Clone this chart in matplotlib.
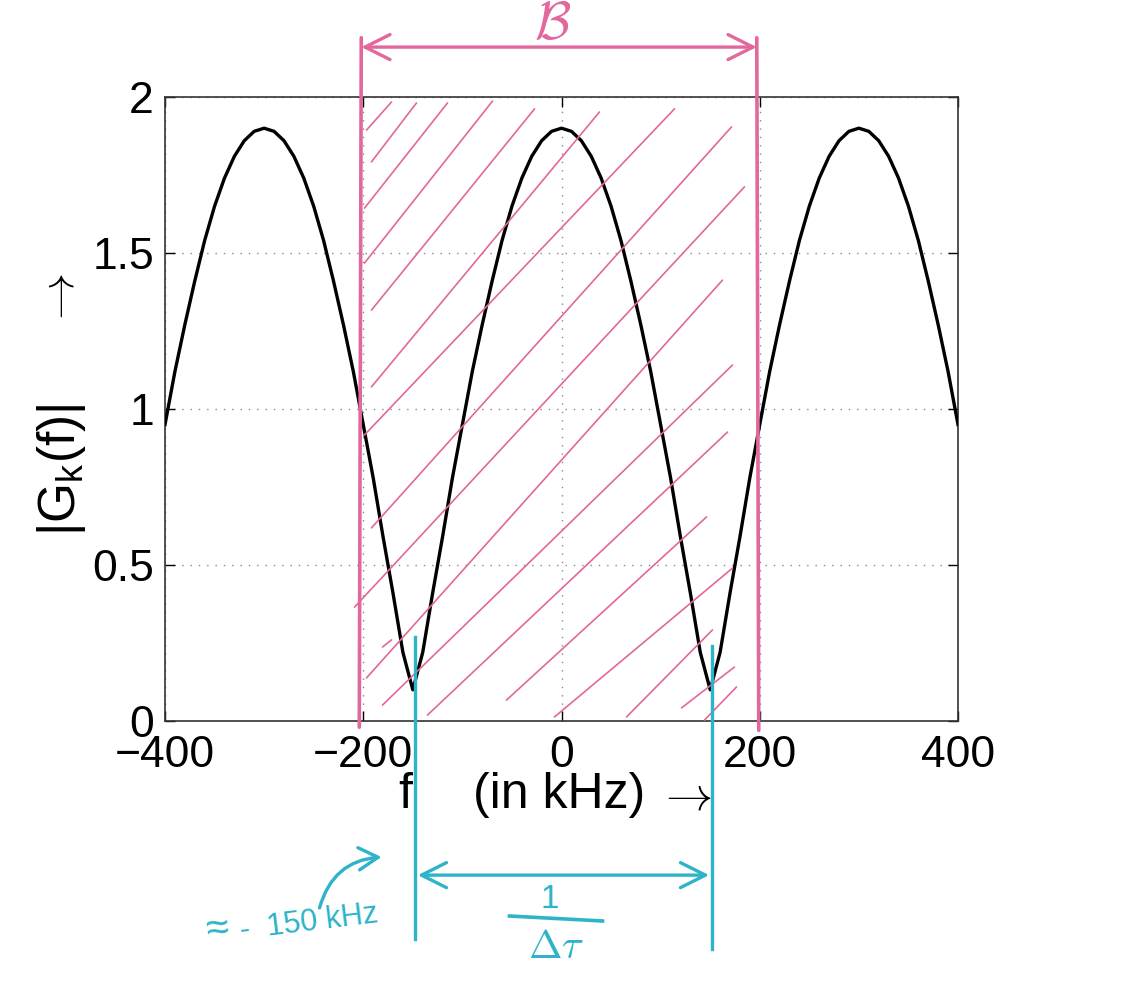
#Magnitude response |G_k(f)| of a two-path channel, with hand-drawn
#annotations (bandwidth B, notch spacing 1/dtau)

import numpy as np
import matplotlib
matplotlib.use("Agg")
import matplotlib.pyplot as plt

plt.rcParams['font.family'] = ['Liberation Sans', 'DejaVu Sans']
plt.rcParams['mathtext.fontset'] = 'custom'
plt.rcParams['mathtext.rm'] = 'Liberation Sans'
plt.rcParams['mathtext.it'] = 'Liberation Sans:italic'

#data (kHz, magnitude)
freq_khz = np.arange(-400, 401, 10)
gain = [0.95, 1.12, 1.27, 1.41, 1.54, 1.65, 1.74, 1.81, 1.86, 1.89,
        1.90, 1.89, 1.86, 1.81, 1.74, 1.65, 1.54, 1.41, 1.27, 1.12,
        0.95, 0.78, 0.59, 0.41, 0.22, 0.10, 0.22, 0.41, 0.59, 0.78,
        0.95, 1.12, 1.27, 1.41, 1.54, 1.65, 1.74, 1.81, 1.86, 1.89,
        1.90,
        1.89, 1.86, 1.81, 1.74, 1.65, 1.54, 1.41, 1.27, 1.12, 0.95,
        0.78, 0.59, 0.41, 0.22, 0.10, 0.22, 0.41, 0.59, 0.78, 0.95,
        1.12, 1.27, 1.41, 1.54, 1.65, 1.74, 1.81, 1.86, 1.89, 1.90,
        1.89, 1.86, 1.81, 1.74, 1.65, 1.54, 1.41, 1.27, 1.12, 0.95]

x_ticks = [-400, -200, 0, 200, 400]
y_ticks = [0, 0.5, 1, 1.5, 2]
y_ticklabels = ["0", "0.5", "1", "1.5", "2"]

#hand drawn annotations
band_left = [(-202, 2.19), (-204, -0.02)]
band_right = [(197, 2.19), (199, -0.03)]
band_arrow_y = 2.16
notch_left = [(-148, 0.27), (-148, -0.70)]
notch_right = [(152, 0.24), (152, -0.73)]
notch_arrow_y = -0.494

#pen strokes of the hatching: (x0, y0, x1, y1)
hatch_strokes = [
    (-196.7, 1.894, -171.5, 1.984),
    (-191.7, 1.792, -146.3, 1.981),
    (-198.7, 1.644, -115.0, 1.981),
    (-198.7, 1.468, -69.6, 1.987),
    (-191.7, 1.317, -27.2, 1.962),
    (-191.7, 1.071, 38.3, 1.952),
    (-198.7, 0.917, 114.0, 1.962),
    (-191.7, 0.619, 171.5, 1.904),
    (-208.8, 0.365, 184.6, 1.712),
    (-196.7, 0.138, 162.4, 1.413),
    (-180.6, 0.051, 172.5, 1.141),
    (-135.2, 0.019, 167.5, 0.926),
    (-55.5, 0.067, 146.3, 0.654),
    (-7.1, 0.013, 172.5, 0.490),
    (65.6, 0.013, 152.3, 0.292),
    (121.1, 0.042, 174.5, 0.173),
    (144.3, 0.003, 176.5, 0.109),
    (-180.6, 0.237, -171.5, 0.260),
]

pink = '#E2679C'
cyan = '#2EB3C9'

fig = plt.figure(figsize=(11.21, 10), dpi=100)
ax = fig.add_axes([165/1121, 1 - 721/1000, 793/1121, 624/1000])

ax.plot(freq_khz, gain, color='black', lw=2.4, zorder=3)

ax.set_xlim(-400, 400)
ax.set_ylim(0, 2)
ax.set_xticks(x_ticks)
ax.set_yticks(y_ticks)
ax.set_yticklabels(y_ticklabels)
ax.tick_params(direction='in', top=True, right=True, length=7, width=1,
               labelsize=32)
ax.tick_params(axis='x', pad=10)
ax.tick_params(axis='y', pad=8)
ax.grid(True, linestyle=(0, (1, 5)), color='#888888', lw=1)
for s in ax.spines.values():
    s.set_linewidth(1.2)
    s.set_color('#333333')

#axis labels, placed piece by piece like the original
fig.text(405/1121, 1 - 795/1000, 'f', fontsize=36, ha='center', va='center')
fig.text(559/1121, 1 - 795/1000, '(in kHz)', fontsize=36, ha='center',
         va='center')
fig.text(684/1121, 1 - 797/1000, r'$\rightarrow$', fontsize=34,
         math_fontfamily='cm', ha='center', va='center')
fig.text(61/1121, 1 - 470/1000, r'$|\mathrm{G}_\mathrm{k}(\mathrm{f})|$',
         fontsize=37, rotation=90, ha='center', va='center')
fig.text(62/1121, 1 - 301/1000, r'$\rightarrow$', fontsize=34,
         math_fontfamily='cm', rotation=90, ha='center', va='center')

#pink: bandwidth B with hatching
for line in (band_left, band_right):
    xs = [p[0] for p in line]
    ys = [p[1] for p in line]
    ax.plot(xs, ys, color=pink, lw=2.6, clip_on=False, zorder=5,
            solid_capstyle='round')
for x0, y0, x1, y1 in hatch_strokes:
    ax.plot([x0, x1], [y0, y1], color=pink, lw=1.2, clip_on=False,
            zorder=4, solid_capstyle='round')
ax.annotate('', xy=(band_right[0][0], band_arrow_y),
            xytext=(band_left[0][0], band_arrow_y),
            arrowprops=dict(arrowstyle='<->,head_length=0.9,head_width=0.45',
                            color=pink, lw=2.4, shrinkA=0, shrinkB=0,
                            mutation_scale=20),
            annotation_clip=False)
ax.text(-9, 2.23, r'$\mathcal{B}$', color=pink, fontsize=38,
        math_fontfamily='cm', ha='center', va='center', clip_on=False)

#cyan: notch spacing 1/dtau
for line in (notch_left, notch_right):
    xs = [p[0] for p in line]
    ys = [p[1] for p in line]
    ax.plot(xs, ys, color=cyan, lw=2.4, clip_on=False, zorder=6)
ax.annotate('', xy=(149, notch_arrow_y), xytext=(-145, notch_arrow_y),
            arrowprops=dict(arrowstyle='<->,head_length=0.9,head_width=0.45',
                            color=cyan, lw=2.4, shrinkA=0, shrinkB=0,
                            mutation_scale=20),
            annotation_clip=False)
ax.text(-12, -0.572, '1', color=cyan, fontsize=24, ha='center',
        va='center', clip_on=False)
ax.plot([-52.5, 41.4], [-0.625, -0.641], color=cyan, lw=2.6, clip_on=False)
ax.text(-5, -0.724, r'$\Delta\tau$', color=cyan, fontsize=29,
        math_fontfamily='cm', ha='center', va='center', clip_on=False)
ax.text(-347, -0.668, '≈', color=cyan, fontsize=30, ha='center',
        va='center', rotation=7, clip_on=False)
ax.text(-255, -0.645, '-  150 kHz', color=cyan, fontsize=22,
        ha='center', va='center', rotation=7, clip_on=False)
ax.annotate('', xy=(-181.6, -0.436), xytext=(-244.1, -0.599),
            arrowprops=dict(arrowstyle='->,head_length=0.7,head_width=0.4',
                            color=cyan, lw=2.4, shrinkA=0, shrinkB=0,
                            mutation_scale=20,
                            connectionstyle='arc3,rad=-0.35'),
            annotation_clip=False)

plt.savefig('out.png', dpi=100)
